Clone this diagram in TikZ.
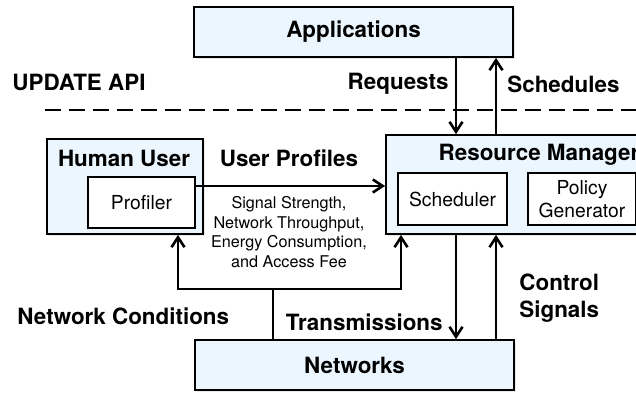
\documentclass[tikz,border=0pt]{standalone}
\usepackage{fontspec}
\setmainfont{TeX Gyre Heros}
\usetikzlibrary{arrows.meta,shadows}

\definecolor{boxblue}{RGB}{236,246,254}

\tikzset{
  box/.style={draw, line width=0.85pt, fill=boxblue,
    drop shadow={opacity=0.18, shadow xshift=0.9pt, shadow yshift=-0.9pt}},
  inbox/.style={draw, line width=0.85pt, fill=white, align=center,
    font=\fontsize{9.65}{11.2}\selectfont},
  title/.style={inner sep=0pt, font=\fontsize{11.2}{13.4}\selectfont\bfseries},
  flow/.style={->, line width=1.3pt},
  link/.style={line width=1.3pt}
}

\begin{document}
\begin{tikzpicture}[x=0.5pt, y=-0.5pt, >={Straight Barb[length=5pt,width=6.5pt]}]
    \useasboundingbox (0,0) rectangle (636,392);
    \clip (0,0) rectangle (636,392);

    % API border
    \node[title, anchor=west] (api) at (12,82) {UPDATE API};
    \coordinate (dashl) at (45,110);
    \coordinate (dashr) at (640,110);
    \draw[line width=1.3pt, dash pattern=on 8pt off 4pt] (dashl) -- (dashr);

    % Boxes
    \node[box, minimum width=159.5pt, minimum height=25pt, title] (app) at (353.5,32) {Applications};
    \node[box, minimum width=78pt, minimum height=47.5pt] (user) at (125,186.5) {};
    \node[inbox, minimum width=53.5pt, minimum height=25.5pt] (prof) at (141.5,202.5) {Profiler};
    \node[title] (usert) at (124,158) {Human User};

    \node[box, minimum width=153pt, minimum height=49.5pt] (rm) at (539,184.5) {};
    \node[title] (rmt) at (539,155) {Resource Manager};
    \node[inbox, minimum width=54.5pt, minimum height=26pt] (sched) at (452.5,199) {Scheduler};
    \node[inbox, minimum width=54pt, minimum height=26pt, inner sep=0pt] (policy) at (582,199) {Policy\\Generator};

    \node[box, minimum width=159.5pt, minimum height=25pt, title] (net) at (354.5,365) {Networks};

    % Applications <-> Resource Manager
    \draw[flow] (app.south -| 456,0) -- (rm.north -| 456,0);
    \draw[flow] (rm.north -| 496,0) -- (app.south -| 496,0);
    \node[title, anchor=east] (req) at (449,84) {Requests};
    \node[title, anchor=west] (sch) at (507,84) {Schedules};

    % Profiles
    \draw[flow] ([yshift=8.25pt]prof.east) -- (rm.west |- 0,186);
    \node[title] (prot) at (289,158) {User Profiles};
    \node[align=center, inner sep=0pt, font=\fontsize{8.1}{9.75}\selectfont] (meas) at (289,232)
      {Signal Strength,\\Network Throughput,\\Energy Consumption,\\and Access Fee};

    % Network conditions
    \coordinate (fork) at (273,289);
    \draw[link] (net.north -| fork) -- (fork);
    \draw[flow] (fork) -| (user.south -| 178,0);
    \draw[flow] (fork) -| (rm.south -| 401,0);
    \node[title, anchor=west] (cond) at (17,316) {Network Conditions};

    % Resource Manager <-> Networks
    \draw[flow] (rm.south -| 456,0) -- (net.north -| 456,0);
    \draw[flow] (net.north -| 496,0) -- (rm.south -| 496,0);
    \node[title, anchor=east] (trans) at (443,322) {Transmissions};
    \node[title, anchor=west, align=left] (ctrl) at (519,298.5) {Control\\Signals};
\end{tikzpicture}
\end{document}
